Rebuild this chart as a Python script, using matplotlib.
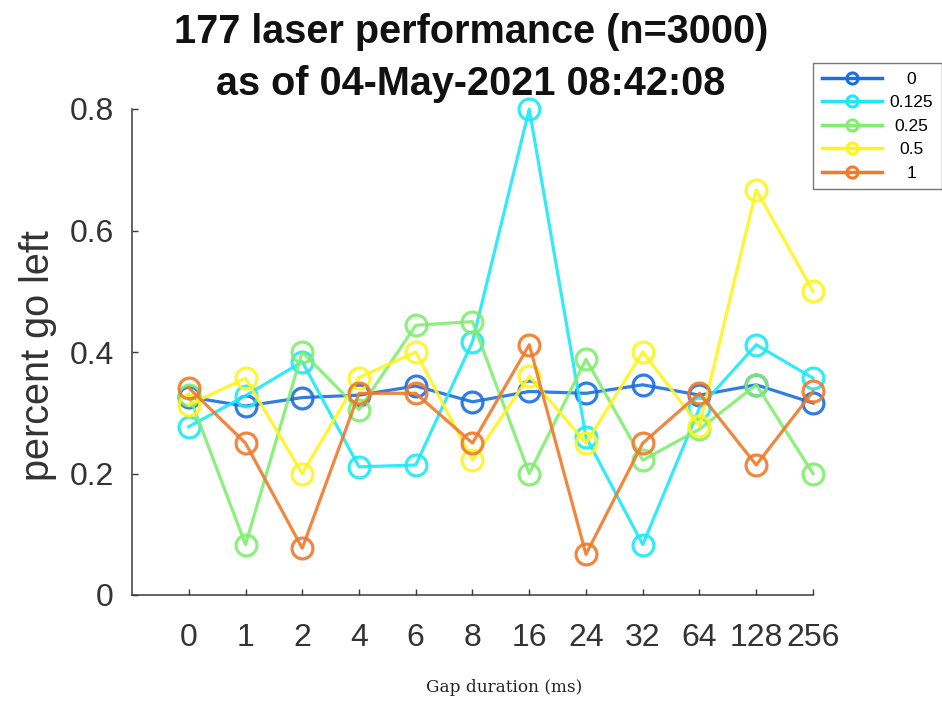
import matplotlib
matplotlib.use("Agg")
import matplotlib.pyplot as plt
from matplotlib.lines import Line2D
from matplotlib.transforms import Affine2D

# Gap durations (ms) shown as categorical ticks
gap_labels = ['0', '1', '2', '4', '6', '8', '16', '24', '32', '64', '128', '256']

# Laser power levels and the fraction of "go left" responses per gap
laser_levels = ['0', '0.125', '0.25', '0.5', '1']
pct_0 = [0.326, 0.311, 0.325, 0.329, 0.344, 0.318, 0.335, 0.332, 0.346, 0.329, 0.346, 0.316]
pct_0125 = [0.277, 0.328, 0.384, 0.211, 0.214, 0.417, 0.800, 0.260, 0.083, 0.308, 0.412, 0.357]
pct_025 = [0.330, 0.083, 0.400, 0.305, 0.444, 0.450, 0.200, 0.388, 0.222, 0.273, 0.346, 0.200]
pct_05 = [0.313, 0.357, 0.200, 0.358, 0.400, 0.222, 0.360, 0.250, 0.400, 0.278, 0.667, 0.500]
pct_1 = [0.341, 0.250, 0.077, 0.332, 0.332, 0.250, 0.412, 0.067, 0.250, 0.332, 0.214, 0.335]

series = [pct_0, pct_0125, pct_025, pct_05, pct_1]
colors = ['#1a6fe3', '#1ee8f7', '#80ee70', '#fff41a', '#f07a2a']

FONT = ['Liberation Sans', 'DejaVu Sans']
axis_color = '#3a3a3a'

fig = plt.figure(figsize=(9.42, 7.04), dpi=100)
ax = fig.add_axes([132 / 942, 1 - 595 / 704, 681 / 942, 486 / 704])

xs = list(range(len(gap_labels)))
for vals, col in zip(series, colors):
    ax.plot(xs, vals, color=col, lw=2.3, marker='o', ms=15, mew=2.3,
            mfc='none', mec=col, alpha=0.9, clip_on=False)

ax.set_xlim(-1, 11)
ax.set_ylim(0, 0.8)
ax.set_xticks(xs)
ax.set_xticklabels(gap_labels)
ax.set_yticks([0, 0.2, 0.4, 0.6, 0.8])
ax.set_yticklabels(['0', '0.2', '0.4', '0.6', '0.8'])

for side in ('top', 'right'):
    ax.spines[side].set_visible(False)
for side in ('left', 'bottom'):
    ax.spines[side].set_color(axis_color)
    ax.spines[side].set_linewidth(1.1)

ax.tick_params(axis='both', direction='in', length=4, width=1.0,
               colors=axis_color, labelcolor='#333333', labelsize=23)
ax.tick_params(axis='x', pad=20)
ax.tick_params(axis='y', pad=13)
for t in ax.get_xticklabels() + ax.get_yticklabels():
    t.set_fontfamily(FONT)

# Title, axis labels
fig.text(0.5, 1 - 58 / 704,
         '177 laser performance (n=3000)\nas of 04-May-2021 08:42:08',
         ha='center', va='center', fontsize=28.5, fontweight='bold',
         family=FONT, linespacing=1.45, color='#111111')
fig.text(38 / 942, 1 - 356 / 704, 'percent go left', rotation=90,
         ha='center', va='center', fontsize=28.5, family=FONT, color='#333333')
fig.text(504 / 942, 1 - 688 / 704, 'Gap duration (ms)', ha='center',
         va='center', fontsize=12.2, family=['DejaVu Serif'], color='#222222')

# Legend
handles = [Line2D([0], [0], color=c, lw=2.5, marker='o', ms=8, mew=2.2,
                  mfc='none', mec=c) for c in colors]
leg = fig.legend(handles, laser_levels, loc='upper left',
                 bbox_to_anchor=(813 / 942, 1 - 63 / 704),
                 bbox_transform=fig.transFigure,
                 prop={'family': FONT, 'size': 12.5},
                 frameon=True, fancybox=False, edgecolor='#777777',
                 framealpha=1, borderpad=0.5, labelspacing=0.48,
                 handlelength=3.5, handletextpad=0.4, borderaxespad=0)
leg.get_frame().set_linewidth(1.0)

# Center the legend labels in their column
fig.canvas.draw()
renderer = fig.canvas.get_renderer()
texts = leg.get_texts()
widths = [t.get_window_extent(renderer).width for t in texts]
wmax = max(widths)
for t, w in zip(texts, widths):
    t.set_transform(t.get_transform() + Affine2D().translate((wmax - w) / 2, 0))

fig.savefig('out.png', dpi=100)
